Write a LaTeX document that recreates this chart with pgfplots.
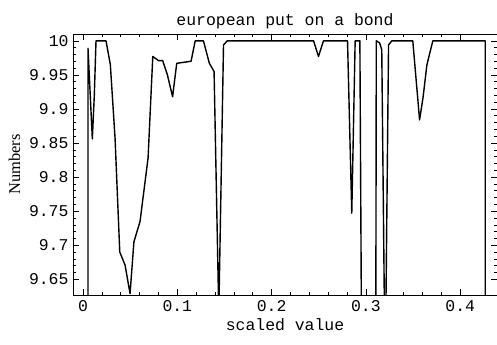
\documentclass[border=0pt]{standalone}
\usepackage{pgfplots}
\pgfplotsset{compat=1.18}
\usepackage{fontspec}
\setmainfont{Liberation Mono}
\newfontfamily\serifr{Liberation Serif}
\begin{document}
\begin{tikzpicture}
\begin{axis}[
  scale only axis,
  width=424bp, height=261bp,
  xmin=-0.0106, xmax=0.439,
  ymin=9.627, ymax=10.01,
  xtick={0,0.1,0.2,0.3,0.4},
  ytick={9.65,9.7,9.75,9.8,9.85,9.9,9.95,10},
  yticklabels={9.65,9.7,9.75,9.8,9.85,9.9,9.95,10},
  xticklabels={0,0.1,0.2,0.3,0.4},
  minor x tick num=4,
  minor y tick num=4,
  tick align=inside,
  major tick length=6bp,
  minor tick length=3bp,
  tick style={black, line width=0.6bp},
  axis line style={black, line width=0.8bp},
  /pgf/number format/assume math mode=true,
  tick label style={font=\fontsize{16.5}{19}\selectfont},
  xticklabel style={yshift=-2bp},
  yticklabel style={xshift=-1bp},
  title={european put on a bond},
  title style={font=\fontsize{16.5}{19}\selectfont, yshift=-4bp},
  xlabel={scaled value},
  xlabel style={font=\fontsize{16.5}{19}\selectfont, yshift=0bp},
  ylabel={\serifr Numbers},
  ylabel style={font=\fontsize{16.5}{19}\selectfont, yshift=2bp},
  clip=true,
]
\addplot[black, line width=1.4bp, line join=round] coordinates {
(0.0053,9.5) (0.0053,9.989) (0.0099,9.856) (0.0120,9.92) (0.0138,10.0) (0.0244,10.0)
(0.029,9.965) (0.034,9.857) (0.039,9.69) (0.0446,9.671) (0.0499,9.629)
(0.054,9.705) (0.0605,9.735) (0.069,9.828) (0.074,9.977) (0.080,9.971)
(0.0845,9.971) (0.0895,9.95) (0.095,9.918) (0.0994,9.967) (0.1146,9.97)
(0.119,10.0) (0.1277,10.0) (0.134,9.967) (0.139,9.955) (0.144,9.6)
(0.149,9.994) (0.153,10.0) (0.2445,10.0) (0.2497,9.977) (0.255,10.0)
(0.2805,10.0) (0.285,9.747) (0.2886,10.0) (0.2936,10.0) (0.2956,9.5)
(0.3104,9.5) (0.3110,10.0) (0.3145,9.997) (0.3168,9.987) (0.3204,9.5)
(0.324,9.994) (0.3275,10.0) (0.3497,10.0) (0.3569,9.884) (0.3605,9.916)
(0.3647,9.965) (0.371,10.0) (0.4265,10.0) (0.4265,9.5)
};
\coordinate (BL) at (rel axis cs:0,0);
\coordinate (TR) at (rel axis cs:1,1);
\end{axis}
\pgfresetboundingbox
\path ([shift={(-73bp,-50bp)}]BL) rectangle ([shift={(0bp,34bp)}]TR);
\end{tikzpicture}
\end{document}
